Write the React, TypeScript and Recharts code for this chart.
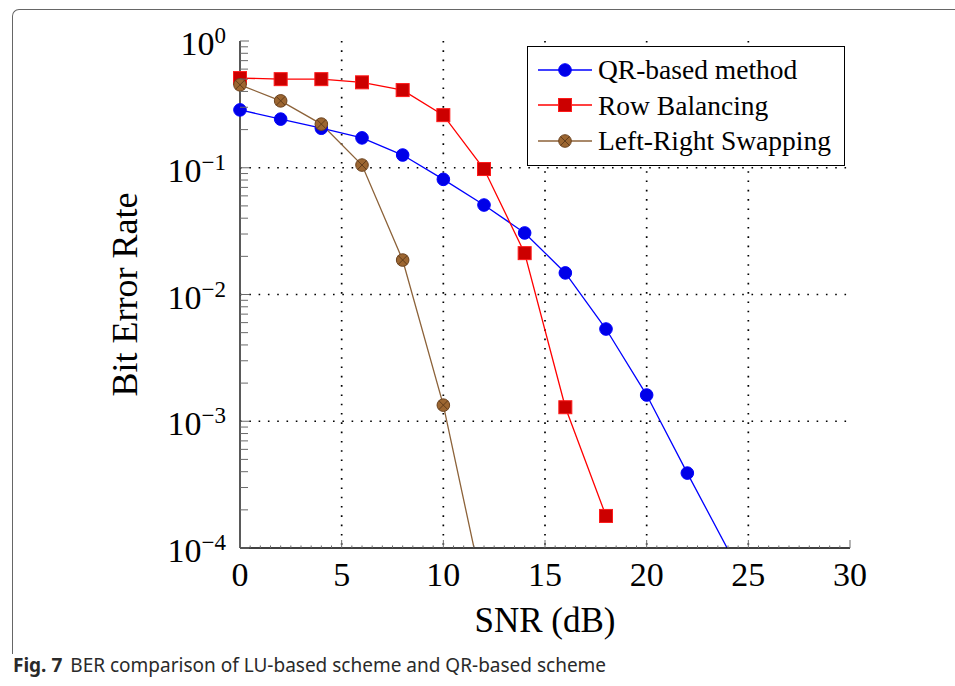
import React from "react";
import { LineChart, Line, XAxis, YAxis, CartesianGrid, Legend, Label } from "recharts";

// BER curves, SNR in dB
const snr = [0, 2, 4, 6, 8, 10, 12, 14, 16, 18, 20, 22, 24];
const qrBased = [0.286, 0.242, 0.205, 0.172, 0.126, 0.081, 0.0508, 0.0306, 0.0148, 0.00534, 0.00161, 0.00039, 0.000097];
const rowBalancing = [0.51, 0.5, 0.5, 0.472, 0.41, 0.26, 0.0977, 0.0212, 0.00129, 0.000179, null, null, null];
const leftRightSwapping = [0.451, 0.337, 0.221, 0.105, 0.0187, 0.00134, 0.000043, null, null, null, null, null, null];

const xMajorTicks = [0, 5, 10, 15, 20, 25, 30];
const yMajorTicks = [1e-4, 1e-3, 1e-2, 1e-1, 1];
const xGridValues = [5, 10, 15, 20, 25];
const yGridValues = [1e-3, 1e-2, 1e-1];

const Y_MIN = 1e-4;
const SERIF = '"Liberation Serif", "DejaVu Serif", serif';

// minor ticks: every 0.5 dB, and 1..9 per decade
const xMinorTicks = Array.from({ length: 61 }, (_, i) => i * 0.5);
const yMinorTicks: number[] = [];
for (let e = -4; e < 0; e++) {
  for (let m = 1; m < 10; m++) yMinorTicks.push(m * Math.pow(10, e));
}
yMinorTicks.push(1);

const SERIES = [
  { key: "qr", name: "QR-based method", values: qrBased, color: "#0000ff", marker: "circle" },
  { key: "row", name: "Row Balancing", values: rowBalancing, color: "#ff0000", marker: "square" },
  { key: "lr", name: "Left-Right Swapping", values: leftRightSwapping, color: "#8c6239", marker: "otimes" },
];

const data = snr.map((s, i) => {
  const row: Record<string, number | null> = { snr: s };
  for (const ser of SERIES) {
    const v = ser.values[i];
    row[ser.key] = v;
    // markers only where the point is inside the plotted range
    row[ser.key + "Mark"] = v != null && v >= Y_MIN ? v : null;
  }
  return row;
});

function Marker({ kind, cx, cy }: { kind: string; cx: number; cy: number }) {
  if (kind === "circle") {
    return <circle cx={cx} cy={cy} r={6.3} fill="#0000e8" stroke="#0000ff" strokeWidth={1} />;
  }
  if (kind === "square") {
    return <rect x={cx - 6.5} y={cy - 6.5} width={13} height={13} fill="#cc0000" stroke="#ff1a1a" strokeWidth={1} />;
  }
  const d = 6.3 * 0.707;
  return (
    <g>
      <circle cx={cx} cy={cy} r={6.3} fill="#9c6631" stroke="#6b4320" strokeWidth={1} />
      <line x1={cx - d} y1={cy - d} x2={cx + d} y2={cy + d} stroke="#5a3818" strokeWidth={0.9} />
      <line x1={cx - d} y1={cy + d} x2={cx + d} y2={cy - d} stroke="#5a3818" strokeWidth={0.9} />
    </g>
  );
}

const isDecade = (v: number) => Math.abs(Math.log10(v) - Math.round(Math.log10(v))) < 1e-6;
const isXMajor = (v: number) => xMajorTicks.includes(v);
const TICK_COLOR = "#6a6a6a";

function BottomTick({ x, y, payload }: any) {
  const v = payload.value;
  const major = isXMajor(v);
  return (
    <g>
      <line x1={x} x2={x} y1={y} y2={y - (major ? 8 : 2.5)} stroke={TICK_COLOR} strokeWidth={1} />
      {major && (
        <text x={x} y={y + 38} textAnchor="middle" fontSize={34} fontFamily={SERIF} fill="#000">
          {v}
        </text>
      )}
    </g>
  );
}

function TopTick({ x, y, payload }: any) {
  const major = isXMajor(payload.value);
  return <line x1={x} x2={x} y1={y} y2={y + (major ? 8 : 2.5)} stroke={TICK_COLOR} strokeWidth={1} />;
}

function LeftTick({ x, y, payload }: any) {
  const v = payload.value;
  const major = isDecade(v);
  const exp = Math.round(Math.log10(v));
  return (
    <g>
      <line x1={x} x2={x + (major ? 9 : 8)} y1={y} y2={y} stroke={TICK_COLOR} strokeWidth={1} />
      {major && yMajorTicks.some((t) => Math.abs(t - v) < t * 1e-6) && (
        <text x={x - 14} y={y + 14} textAnchor="end" fontSize={34} fontFamily={SERIF} fill="#000">
          10
          <tspan dy={-12} fontSize={23}>
            {exp < 0 ? `\u2212${-exp}` : `${exp}`}
          </tspan>
        </text>
      )}
    </g>
  );
}

function RightTick({ x, y, payload }: any) {
  const major = isDecade(payload.value);
  return <line x1={x} x2={x - (major ? 9 : 8)} y1={y} y2={y} stroke={TICK_COLOR} strokeWidth={1} />;
}

function LegendBox() {
  return (
    <div
      style={{
        border: "1.3px solid #000",
        background: "#fff",
        padding: "5px 0 5px 10px",
        width: 318,
        height: 120,
        boxSizing: "border-box",
      }}
    >
      {SERIES.map((s) => (
        <div key={s.key} style={{ display: "flex", alignItems: "center", height: 35.5 }}>
          <svg width={54} height={20} style={{ display: "block" }}>
            <line x1={0} x2={54} y1={10} y2={10} stroke={s.color} strokeWidth={1.3} />
            <Marker kind={s.marker} cx={27} cy={10} />
          </svg>
          <span style={{ marginLeft: 6, fontSize: 27.5, fontFamily: SERIF, lineHeight: 1, color: "#000" }}>
            {s.name}
          </span>
        </div>
      ))}
    </div>
  );
}

function YTitle({ viewBox }: any) {
  const x = viewBox.x - 43;
  const y = viewBox.y + viewBox.height / 2;
  return (
    <text x={x} y={y} transform={`rotate(-90, ${x}, ${y})`} textAnchor="middle" fontSize={36} fontFamily={SERIF} fill="#000">
      Bit Error Rate
    </text>
  );
}

function XTitle({ viewBox }: any) {
  return (
    <text x={viewBox.x + viewBox.width / 2} y={viewBox.y + 84} textAnchor="middle" fontSize={35} fontFamily={SERIF} fill="#000">
      SNR (dB)
    </text>
  );
}

export default function App() {
  return (
    <div style={{ position: "absolute", left: 0, top: 0, width: 955, height: 686, background: "#fff", overflow: "hidden" }}>
      <div
        style={{
          position: "absolute",
          left: 12,
          top: 9,
          width: 1000,
          height: 644,
          borderLeft: "1.5px solid #666",
          borderTop: "1.5px solid #666",
          borderTopLeftRadius: 7,
        }}
      />
      <LineChart
        width={955}
        height={686}
        data={data}
        margin={{ top: 41, right: 105, bottom: 98, left: 180 }}
        style={{ position: "absolute", left: 0, top: 0 }}
      >
        <CartesianGrid
          horizontal
          vertical
          horizontalValues={yGridValues}
          verticalValues={xGridValues}
          stroke="#000"
          strokeWidth={1.7}
          strokeDasharray="1.6 7.7"
        />
        <XAxis
          xAxisId={0}
          dataKey="snr"
          type="number"
          domain={[0, 30]}
          ticks={xMinorTicks}
          interval={0}
          height={40}
          tickSize={0}
          tickMargin={0}
          tickLine={false}
          axisLine={{ stroke: "#000", strokeWidth: 1.3 }}
          tick={<BottomTick />}
        >
          <Label content={<XTitle />} />
        </XAxis>
        <XAxis
          xAxisId="top"
          dataKey="snr"
          type="number"
          orientation="top"
          domain={[0, 30]}
          ticks={xMinorTicks}
          interval={0}
          height={0}
          tickSize={0}
          tickMargin={0}
          tickLine={false}
          allowDataOverflow
          axisLine={{ stroke: "#000", strokeWidth: 1.3 }}
          tick={<TopTick />}
        />
        <YAxis
          yAxisId={0}
          scale="log"
          type="number"
          domain={[Y_MIN, 1]}
          allowDataOverflow
          ticks={yMinorTicks}
          interval={0}
          width={60}
          tickSize={0}
          tickMargin={0}
          tickLine={false}
          axisLine={{ stroke: "#000", strokeWidth: 1.3 }}
          tick={<LeftTick />}
        >
          <Label content={<YTitle />} />
        </YAxis>
        <YAxis
          yAxisId="right"
          orientation="right"
          scale="log"
          type="number"
          domain={[Y_MIN, 1]}
          ticks={yMinorTicks}
          interval={0}
          width={0}
          tickSize={0}
          tickMargin={0}
          tickLine={false}
          axisLine={{ stroke: "#000", strokeWidth: 1.3 }}
          tick={<RightTick />}
        />
        {SERIES.map((s) => [
          <Line
            key={s.key}
            dataKey={s.key}
            yAxisId={0}
            stroke={s.color}
            strokeWidth={1.3}
            dot={false}
            activeDot={false}
            isAnimationActive={false}
            type="linear"
          />,
          <Line
            key={s.key + "Mark"}
            dataKey={s.key + "Mark"}
            yAxisId="right"
            stroke="none"
            activeDot={false}
            isAnimationActive={false}
            type="linear"
            dot={(p: any) =>
              p.value == null ? (
                <g key={`m-${s.key}-${p.index}`} />
              ) : (
                <g key={`m-${s.key}-${p.index}`}>
                  <Marker kind={s.marker} cx={p.cx} cy={p.cy} />
                </g>
              )
            }
          />,
        ])}
        <Legend
          layout="vertical"
          align="center"
          verticalAlign="middle"
          content={() => <LegendBox />}
          wrapperStyle={{ left: 527, top: 46, width: 318, height: 120 }}
        />
      </LineChart>
      <div
        style={{
          position: "absolute",
          left: 13,
          top: 653,
          fontFamily: '"Noto Sans", "Open Sans", sans-serif',
          fontSize: 19,
          lineHeight: "24px",
          color: "#2a2a2a",
          whiteSpace: "nowrap",
        }}
      >
        <b>Fig. 7</b>
        <span style={{ marginLeft: 8 }}>BER comparison of LU-based scheme and QR-based scheme</span>
      </div>
    </div>
  );
}
